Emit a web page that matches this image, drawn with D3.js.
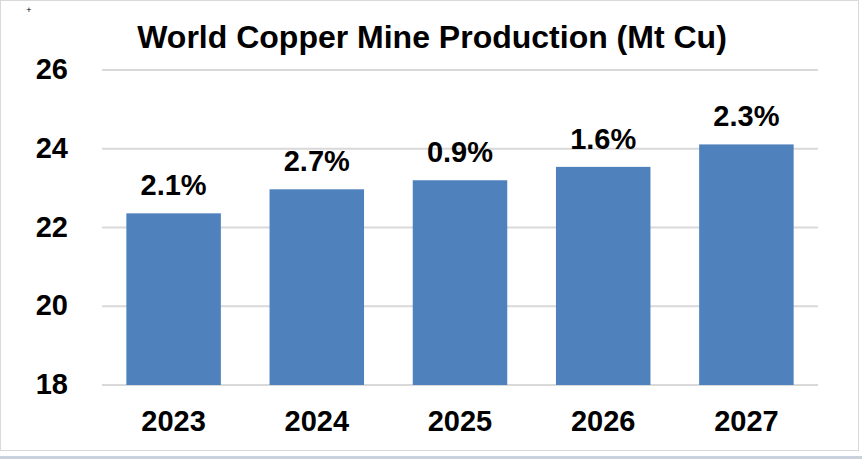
<!DOCTYPE html>
<html>
<head>
<meta charset="utf-8">
<script src="https://cdn.jsdelivr.net/npm/d3@7"></script>
<style>
  html, body { margin: 0; padding: 0; background: #fff; }
  svg { display: block; }
</style>
</head>
<body>
<div id="canvas"></div>
<script>
"use strict";

/* Configuration: drawing */
let svgWidth = 862;
let svgHeight = 459;
let fontFamily = "'Liberation Sans', Arial, sans-serif";

/* Data: world copper mine production (Mt Cu) and yearly growth */
let years = ["2023", "2024", "2025", "2026", "2027"];
let production = [22.36, 22.97, 23.20, 23.54, 24.11];
let growthLabels = ["2.1%", "2.7%", "0.9%", "1.6%", "2.3%"];
let yTicks = [18, 20, 22, 24, 26];

let svg = d3.select("#canvas")
  .append("svg")
  .attr("width", svgWidth)
  .attr("height", svgHeight);

// strip along the bottom edge of the screenshot
svg.append("rect")
  .attr("x", 0)
  .attr("y", 456)
  .attr("width", svgWidth)
  .attr("height", 3)
  .attr("fill", "#c9d1dd");

// chart frame
svg.append("rect")
  .attr("x", 0.5)
  .attr("y", 0.5)
  .attr("width", 858)
  .attr("height", 450)
  .attr("fill", "#fff")
  .attr("stroke", "#d9d9d9");

// tiny cursor mark in the corner
svg.append("text")
  .attr("x", 29)
  .attr("y", 13)
  .attr("text-anchor", "middle")
  .attr("font-family", fontFamily)
  .attr("font-size", 9)
  .attr("fill", "#000")
  .text("+");

/* Scales */
let xScale = d3.scaleBand()
  .domain(years)
  .range([102, 818])
  .paddingInner(0.34)
  .paddingOuter(0.17);

let yScale = d3.scaleLinear()
  .domain([18, 26])
  .range([385, 70]);

/* Gridlines */
svg.selectAll("line.grid")
  .data(yTicks)
  .join("line")
  .attr("class", "grid")
  .attr("x1", 102)
  .attr("x2", 818)
  .attr("y1", d => yScale(d))
  .attr("y2", d => yScale(d))
  .attr("stroke", "#d9d9d9")
  .attr("stroke-width", 2);

/* Bars */
let rows = years.map((y, i) => ({ year: y, value: production[i], label: growthLabels[i] }));

svg.selectAll("rect.bar")
  .data(rows)
  .join("rect")
  .attr("class", "bar")
  .attr("x", d => xScale(d.year))
  .attr("width", xScale.bandwidth())
  .attr("y", d => yScale(d.value))
  .attr("height", d => yScale(18) - yScale(d.value))
  .attr("fill", "#4f81bd");

/* Growth labels above bars */
svg.selectAll("text.growth")
  .data(rows)
  .join("text")
  .attr("class", "growth")
  .attr("x", d => xScale(d.year) + xScale.bandwidth() / 2)
  .attr("y", d => yScale(d.value) - 18)
  .attr("text-anchor", "middle")
  .attr("font-family", fontFamily)
  .attr("font-weight", "bold")
  .attr("font-size", 29)
  .attr("fill", "#000")
  .text(d => d.label);

/* Y tick labels */
svg.selectAll("text.ytick")
  .data(yTicks)
  .join("text")
  .attr("class", "ytick")
  .attr("x", 68)
  .attr("y", d => yScale(d) + 9)
  .attr("text-anchor", "end")
  .attr("font-family", fontFamily)
  .attr("font-weight", "bold")
  .attr("font-size", 29)
  .text(d => d);

/* X tick labels */
svg.selectAll("text.xtick")
  .data(years)
  .join("text")
  .attr("class", "xtick")
  .attr("x", d => xScale(d) + xScale.bandwidth() / 2)
  .attr("y", 431)
  .attr("text-anchor", "middle")
  .attr("font-family", fontFamily)
  .attr("font-weight", "bold")
  .attr("font-size", 29)
  .text(d => d);

/* Title */
svg.append("text")
  .attr("x", 432)
  .attr("y", 48)
  .attr("text-anchor", "middle")
  .attr("font-family", fontFamily)
  .attr("font-weight", "bold")
  .attr("font-size", 32)
  .text("World Copper Mine Production (Mt Cu)");
</script>
</body>
</html>
